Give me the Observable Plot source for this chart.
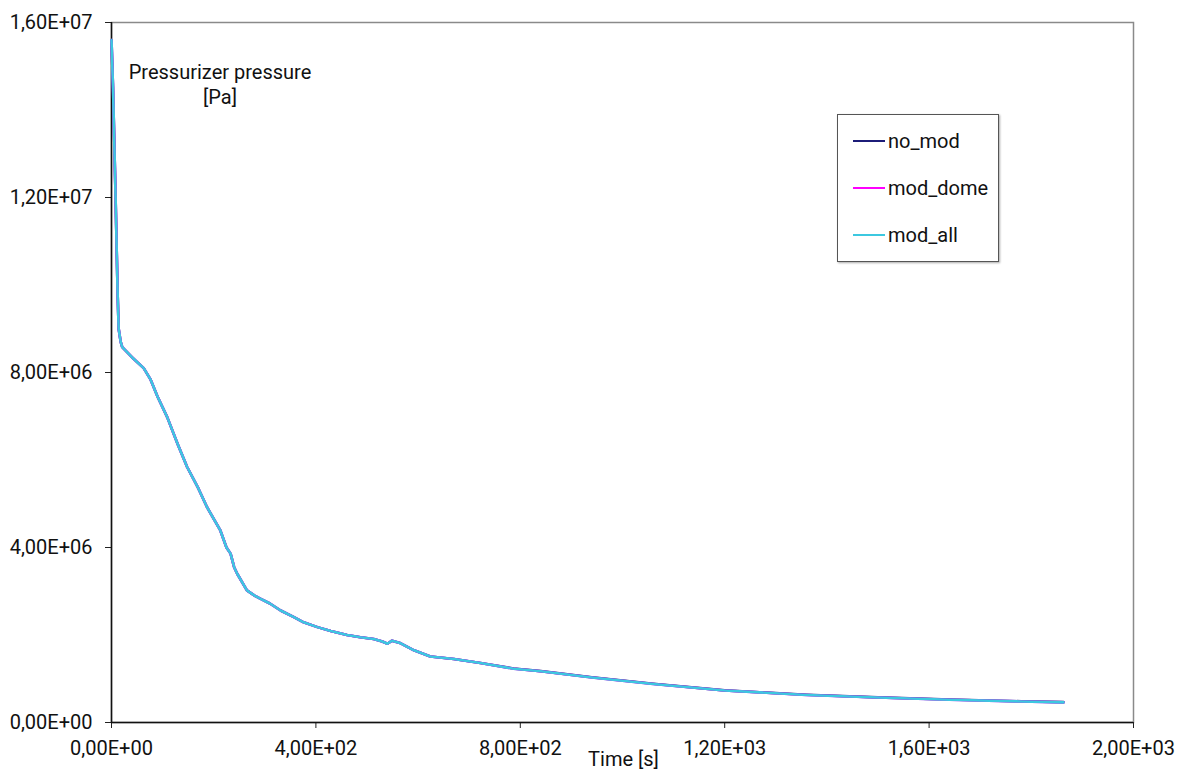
<!DOCTYPE html>
<html>
<head>
<meta charset="utf-8">
<script src="https://cdn.jsdelivr.net/npm/d3@7"></script>
<script src="https://cdn.jsdelivr.net/npm/@observablehq/plot@0.6"></script>
<style>
  html, body { margin: 0; padding: 0; background: #fff; }
  #wrap { position: relative; width: 1180px; height: 772px; font-family: Roboto, "DejaVu Sans", sans-serif; }
  #title { position: absolute; left: 120px; top: 60px; width: 200px; text-align: center; font-size: 20px; line-height: 25px; color: #111; white-space: nowrap; }
  #legend { position: absolute; left: 837px; top: 114px; width: 162px; height: 148px; border: 1.5px solid #555; box-shadow: 1px 1px 2px #aaa; background: #fff; box-sizing: border-box; }
  .item { position: absolute; left: 15px; height: 22px; display: flex; align-items: center; font-size: 20px; color: #111; white-space: nowrap; }
  .sw { display: inline-block; width: 32px; height: 2.5px; margin-right: 3px; }
</style>
</head>
<body>
<div id="wrap">
  <div id="chart"></div>
  <div id="title">Pressurizer pressure<br>[Pa]</div>
  <div id="legend"></div>
</div>
<script>
// Time [s]
const time = [0, 3, 8, 12, 14, 18, 21, 40, 63, 76, 90, 109, 130, 148, 170, 187, 213, 225, 233, 240, 246, 265, 280, 291, 310, 331, 357, 376, 403, 429, 461, 487, 513, 530, 540, 549, 566, 592, 624, 670, 722, 787, 840, 940, 1060, 1200, 1360, 1500, 1640, 1780, 1863];
// Pressurizer pressure [Pa]
const noMod = [15.6e6, 14.5e6, 12.0e6, 9.8e6, 9.0e6, 8.7e6, 8.58e6, 8.35e6, 8.1e6, 7.85e6, 7.45e6, 6.98e6, 6.35e6, 5.84e6, 5.35e6, 4.92e6, 4.39e6, 4.0e6, 3.86e6, 3.55e6, 3.40e6, 3.02e6, 2.90e6, 2.83e6, 2.72e6, 2.56e6, 2.41e6, 2.29e6, 2.18e6, 2.09e6, 2.00e6, 1.95e6, 1.91e6, 1.85e6, 1.80e6, 1.87e6, 1.81e6, 1.65e6, 1.51e6, 1.45e6, 1.36e6, 1.235e6, 1.175e6, 1.035e6, 0.885e6, 0.735e6, 0.635e6, 0.575e6, 0.525e6, 0.485e6, 0.465e6];
const modDome = [15.6e6, 14.5e6, 12.0e6, 9.8e6, 9.0e6, 8.7e6, 8.58e6, 8.35e6, 8.1e6, 7.85e6, 7.45e6, 6.98e6, 6.35e6, 5.84e6, 5.35e6, 4.92e6, 4.39e6, 4.0e6, 3.86e6, 3.55e6, 3.40e6, 3.02e6, 2.90e6, 2.83e6, 2.72e6, 2.56e6, 2.41e6, 2.29e6, 2.18e6, 2.09e6, 2.00e6, 1.95e6, 1.91e6, 1.85e6, 1.80e6, 1.87e6, 1.81e6, 1.65e6, 1.51e6, 1.45e6, 1.36e6, 1.23e6, 1.17e6, 1.03e6, 0.88e6, 0.73e6, 0.63e6, 0.57e6, 0.52e6, 0.48e6, 0.46e6];
const modAll = [15.6e6, 14.5e6, 12.0e6, 9.8e6, 9.0e6, 8.7e6, 8.58e6, 8.35e6, 8.1e6, 7.85e6, 7.45e6, 6.98e6, 6.35e6, 5.84e6, 5.35e6, 4.92e6, 4.39e6, 4.0e6, 3.86e6, 3.55e6, 3.40e6, 3.02e6, 2.90e6, 2.83e6, 2.72e6, 2.56e6, 2.41e6, 2.29e6, 2.18e6, 2.09e6, 2.00e6, 1.95e6, 1.91e6, 1.85e6, 1.80e6, 1.87e6, 1.81e6, 1.65e6, 1.51e6, 1.45e6, 1.36e6, 1.23e6, 1.17e6, 1.03e6, 0.88e6, 0.73e6, 0.63e6, 0.57e6, 0.52e6, 0.48e6, 0.46e6];

const seriesNames = ["no_mod", "mod_dome", "mod_all"];
const seriesColors = ["#1c1c78", "#ff00ff", "#3cc8e0"];
const xTicks = [0, 400, 800, 1200, 1600, 2000];
const yTicks = [0, 4e6, 8e6, 1.2e7, 1.6e7];

const fmt = v => {
  if (v === 0) return "0,00E+00";
  const e = Math.floor(Math.log10(Math.abs(v)));
  const m = v / Math.pow(10, e);
  return m.toFixed(2).replace(".", ",") + "E" + (e >= 0 ? "+" : "-") + String(Math.abs(e)).padStart(2, "0");
};

const allSeries = [noMod, modDome, modAll];
const data = [];
seriesNames.forEach((name, i) => {
  time.forEach((t, j) => data.push({series: name, t, p: allSeries[i][j]}));
});

const chart = Plot.plot({
  width: 1180,
  height: 772,
  marginLeft: 111,
  marginRight: 47,
  marginTop: 22,
  marginBottom: 50,
  style: {fontFamily: "Roboto, 'DejaVu Sans', sans-serif", color: "#111", background: "#fff"},
  x: {domain: [0, 2000]},
  y: {domain: [0, 1.6e7]},
  color: {domain: seriesNames, range: seriesColors},
  marks: [
    Plot.frame({stroke: "#8a8a8a", strokeWidth: 1.5}),
    Plot.axisX({ticks: xTicks, tickFormat: fmt, tickSize: 6, tickPadding: 12, fontSize: 20, label: null, stroke: "#222"}),
    Plot.axisY({ticks: yTicks, tickFormat: fmt, tickSize: 6, tickPadding: 13, fontSize: 20, label: null, stroke: "#222"}),
    Plot.ruleY([0], {stroke: "#111", strokeWidth: 1.5}),
    Plot.ruleX([0], {stroke: "#111", strokeWidth: 1.5}),
    Plot.line(data, {x: "t", y: "p", z: "series", stroke: "series", strokeWidth: 2.6, strokeLinejoin: "round"}),
    Plot.text(["Time [s]"], {frameAnchor: "bottom", lineAnchor: "bottom", dy: 43, dx: 1, fontSize: 20, fill: "#111", text: d => d})
  ]
});
document.getElementById("chart").appendChild(chart);

const legend = document.getElementById("legend");
seriesNames.forEach((name, i) => {
  const item = document.createElement("div");
  item.className = "item";
  item.style.top = (15 + i * 47) + "px";
  const sw = document.createElement("span");
  sw.className = "sw";
  sw.style.background = seriesColors[i];
  item.appendChild(sw);
  item.appendChild(document.createTextNode(name));
  legend.appendChild(item);
});
</script>
</body>
</html>
